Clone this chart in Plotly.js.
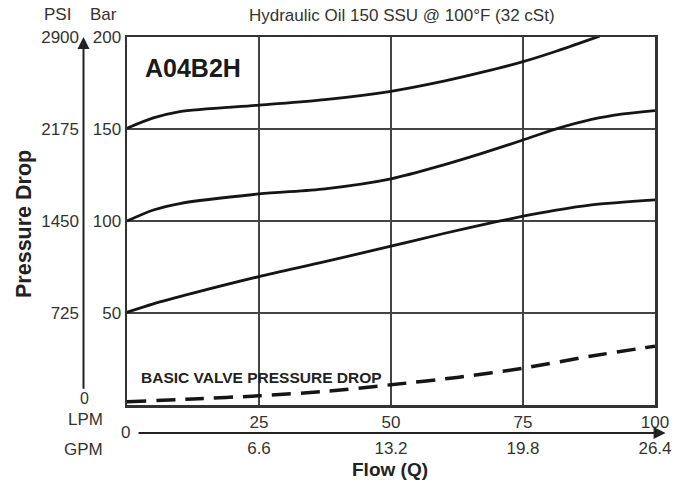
<!DOCTYPE html>
<html>
<head>
<meta charset="utf-8">
<script src="https://cdn.plot.ly/plotly-3.0.1.min.js"></script>
<style>html,body{margin:0;padding:0;background:#fff;}#chart{width:688px;height:480px;}</style>
</head>
<body>
<div id="chart"></div>
<script>
// Axis ticks
const lpmTicks = [25, 50, 75, 100];
const lpmText = ['25', '50', '75', '100'];
const gpmText = ['6.6', '13.2', '19.8', '26.4'];
const barTicks = [50, 100, 150, 200];
const barText = ['50', '100', '150', '200'];
const psiText = ['725', '1450', '2175', '2900'];

// Curves: flow (LPM) vs pressure drop (bar)
const topFlow = [0, 5, 10, 25, 37.5, 50, 60, 67.5, 75, 81, 89.5];
const topBar  = [150.4, 156, 159.5, 163, 166, 170.5, 176, 181, 186.6, 192, 200.5];

const midFlow = [0, 5, 10, 25, 37.5, 50, 60, 67.5, 75, 81, 88, 94, 100];
const midBar  = [100, 106, 109.5, 114.7, 117.5, 122.9, 130.5, 137, 144, 149.8, 155.2, 158.2, 160];

const lowFlow = [0, 5, 12.5, 25, 37.5, 50, 60, 70, 75, 81, 88, 100];
const lowBar  = [50.4, 55, 60.8, 69.8, 77.9, 86.3, 93.2, 99.6, 102.6, 105.8, 108.8, 111.5];

const basicFlow = [0, 12.5, 25, 37.5, 50, 62.5, 75, 88, 100];
const basicBar  = [1.8, 3.3, 5, 7.4, 11, 15, 20, 26.6, 32];

const FONT = 'Liberation Sans, Arial, Helvetica, sans-serif';
const TXT = '#333';
const INK = '#151515';

function curve(x, y, dash, w) {
  return {x: x, y: y, type: 'scatter', mode: 'lines',
    line: {color: INK, width: w, shape: 'spline', smoothing: 0.8, dash: dash},
    hoverinfo: 'skip', showlegend: false};
}

const data = [
  curve(topFlow, topBar, 'solid', 2.8),
  curve(midFlow, midBar, 'solid', 2.8),
  curve(lowFlow, lowBar, 'solid', 2.8),
  curve(basicFlow, basicBar, '19px,10px', 3.5),
  // invisible trace to activate secondary axes
  {x: [0], y: [0], xaxis: 'x2', yaxis: 'y2', type: 'scatter', mode: 'markers',
   marker: {opacity: 0}, hoverinfo: 'skip', showlegend: false}
];

const gridCol = '#444';
const TICK = 17;
const layout = {
  width: 688, height: 480,
  margin: {l: 127, r: 33, t: 37, b: 75},
  paper_bgcolor: '#fff', plot_bgcolor: '#fff',
  font: {family: FONT, color: TXT, size: 16},
  title: {text: 'Hydraulic Oil 150 SSU @ 100°F (32 cSt)', x: 0.584, xanchor: 'center',
          y: 0.969, yanchor: 'middle', font: {size: 17, color: TXT, family: FONT}},
  xaxis: {range: [0, 100], tickvals: lpmTicks, ticktext: lpmText, ticks: '',
          showgrid: true, gridcolor: gridCol, gridwidth: 2, zeroline: false,
          showline: true, mirror: true, linecolor: '#333', linewidth: 2.5,
          tickfont: {size: TICK, color: TXT}, fixedrange: true},
  xaxis2: {overlaying: 'x', anchor: 'y', side: 'bottom', range: [0, 100],
           tickvals: lpmTicks, ticktext: gpmText, ticks: '', showgrid: false,
           zeroline: false, showline: false, ticklabelstandoff: 31,
           tickfont: {size: TICK, color: TXT}, fixedrange: true},
  yaxis: {range: [0, 200], tickvals: barTicks, ticktext: barText, ticks: '',
          showgrid: true, gridcolor: gridCol, gridwidth: 2, zeroline: false,
          showline: true, mirror: true, linecolor: '#333', linewidth: 2.5,
          tickfont: {size: TICK, color: TXT}, fixedrange: true},
  yaxis2: {overlaying: 'y', anchor: 'x', side: 'left', range: [0, 200],
           tickvals: barTicks, ticktext: psiText, ticks: '', showgrid: false,
           zeroline: false, showline: false, ticklabelstandoff: 47,
           tickfont: {size: TICK, color: TXT}, fixedrange: true},
  annotations: [
    {text: '<b>A04B2H</b>', xref: 'x', yref: 'y', x: 3, y: 183, xanchor: 'left', yanchor: 'middle',
     showarrow: false, font: {size: 25, color: '#1a1a1a'}},
    {text: '<b>BASIC VALVE PRESSURE DROP</b>', xref: 'x', yref: 'y', x: 2.3, y: 14.7,
     xanchor: 'left', yanchor: 'middle', showarrow: false, font: {size: 15.5, color: '#222'}},
    {text: 'PSI', xref: 'paper', yref: 'paper', x: -0.131, y: 1.06, xanchor: 'center', yanchor: 'middle',
     showarrow: false, font: {size: 17, color: TXT}},
    {text: 'Bar', xref: 'paper', yref: 'paper', x: -0.0436, y: 1.06, xanchor: 'center', yanchor: 'middle',
     showarrow: false, font: {size: 17, color: TXT}},
    {text: '0', xref: 'paper', yref: 'y', x: -0.0814, y: 3.8, xanchor: 'center', yanchor: 'middle',
     showarrow: false, font: {size: 16, color: TXT}},
    {text: 'LPM', xref: 'paper', yref: 'paper', x: -0.0795, y: -0.04, xanchor: 'center', yanchor: 'middle',
     showarrow: false, font: {size: 17, color: TXT}},
    {text: 'GPM', xref: 'paper', yref: 'paper', x: -0.0833, y: -0.1196, xanchor: 'center', yanchor: 'middle',
     showarrow: false, font: {size: 17, color: TXT}},
    {text: '0', xref: 'paper', yref: 'paper', x: -0.002, y: -0.076, xanchor: 'center', yanchor: 'middle',
     showarrow: false, font: {size: TICK, color: TXT}},
    {text: '<b>Pressure Drop</b>', xref: 'paper', yref: 'paper', x: -0.195, y: 0.492, textangle: -90,
     xanchor: 'center', yanchor: 'middle', showarrow: false, font: {size: 21.5, color: '#222'}},
    {text: '<b>Flow (Q)</b>', xref: 'paper', yref: 'paper', x: 0.498, y: -0.176,
     xanchor: 'center', yanchor: 'middle', showarrow: false, font: {size: 19, color: '#222'}},
    // axis arrows
    {text: '', xref: 'paper', yref: 'y', x: -0.0824, y: 200, axref: 'pixel', ax: 0, ayref: 'y', ay: 8,
     showarrow: true, arrowhead: 2, arrowsize: 1.2, arrowwidth: 2, arrowcolor: '#222', standoff: 0},
    {text: '', xref: 'x', yref: 'paper', x: 102, y: -0.076, axref: 'x', ax: 1.9, ayref: 'pixel', ay: 0,
     showarrow: true, arrowhead: 2, arrowsize: 1.2, arrowwidth: 2, arrowcolor: '#222', standoff: 0}
  ]
};

Plotly.newPlot('chart', data, layout, {displayModeBar: false, staticPlot: true});
</script>
</body>
</html>
